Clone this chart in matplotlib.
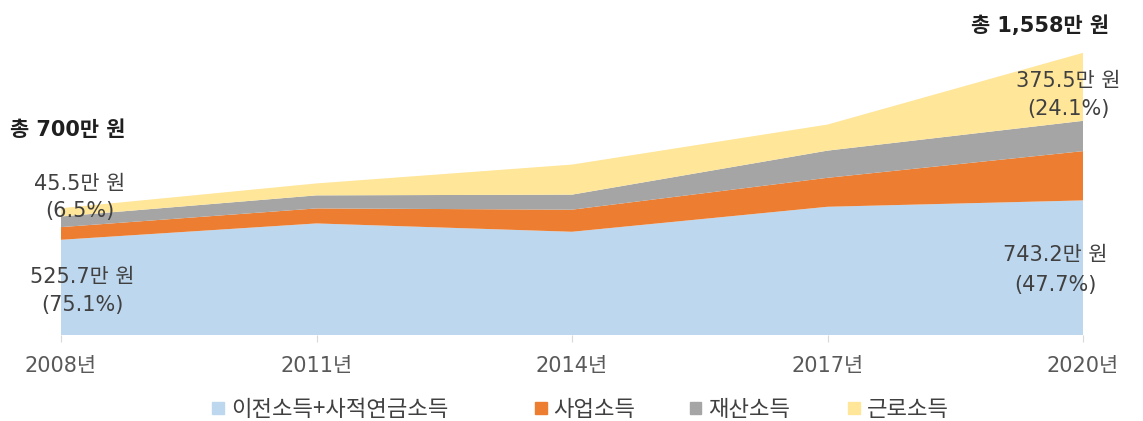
import matplotlib
matplotlib.use("Agg")
import matplotlib.pyplot as plt
from matplotlib.patches import Rectangle

plt.rcParams['font.family'] = ['DejaVu Sans', 'Noto Sans CJK KR']

# 노인가구 연간 소득 구성 (만 원)
years = [2008, 2011, 2014, 2017, 2020]
year_labels = ["2008년", "2011년", "2014년", "2017년", "2020년"]
series_names = ["이전소득+사적연금소득", "사업소득", "재산소득", "근로소득"]
transfer = [525.7, 616, 570, 708, 743.2]
business = [70.0, 83, 122, 160, 272]
property_inc = [58.8, 72, 83, 150, 167.3]
labor = [45.5, 66, 166, 144, 375.5]
colors = ["#BDD7EE", "#ED7D31", "#A5A5A5", "#FFE699"]

W, H = 1143, 421
fig = plt.figure(figsize=(W / 100, H / 100), dpi=100)

def fx(x):
    return x / W

def fy(y):
    return 1 - y / H

ax = fig.add_axes([fx(61), fy(335), fx(1083) - fx(61), (335 - 9) / H])
ax.stackplot(years, transfer, business, property_inc, labor, colors=colors, linewidth=0)
ax.set_xlim(years[0], years[-1])
ax.set_ylim(0, 1800)
for s in ax.spines.values():
    s.set_visible(False)
ax.set_yticks([])
ax.set_xticks(years)
ax.set_xticklabels(year_labels, fontsize=15, color="#595959")
ax.tick_params(axis='x', length=5, color="#D9D9D9", pad=10)

dark = "#1F1F1F"
grey = "#404040"
fig.text(fx(10), fy(130), "총 700만 원", fontsize=15, fontweight='bold', color=dark, va='center', ha='left')
fig.text(fx(1040), fy(26), "총 1,558만 원", fontsize=15, fontweight='bold', color=dark, va='center', ha='center')

notes = [
    (80, 184, "45.5만 원"), (80, 211, "(6.5%)"),
    (82, 277, "525.7만 원"), (82, 305, "(75.1%)"),
    (1068, 81, "375.5만 원"), (1068, 109, "(24.1%)"),
    (1055, 255, "743.2만 원"), (1055, 285, "(47.7%)"),
]
for x, y, s in notes:
    fig.text(fx(x), fy(y), s, fontsize=15, color=grey, ha='center', va='center')

# legend, item by item
renderer = fig.canvas.get_renderer()
centers = [330, 585, 740, 898]
for c, name, col in zip(centers, series_names, colors):
    t = fig.text(0, fy(409), name, fontsize=16, color=grey, va='center', ha='left',
                 family=['Noto Sans CJK KR'])
    w = t.get_window_extent(renderer).width
    left = c - (12 + 7 + w) / 2
    t.set_x(fx(left + 19))
    fig.patches.append(Rectangle((fx(left), fy(414)), 12 / W, 12 / H, color=col,
                                 transform=fig.transFigure, figure=fig))

fig.savefig("out.png", dpi=100)
